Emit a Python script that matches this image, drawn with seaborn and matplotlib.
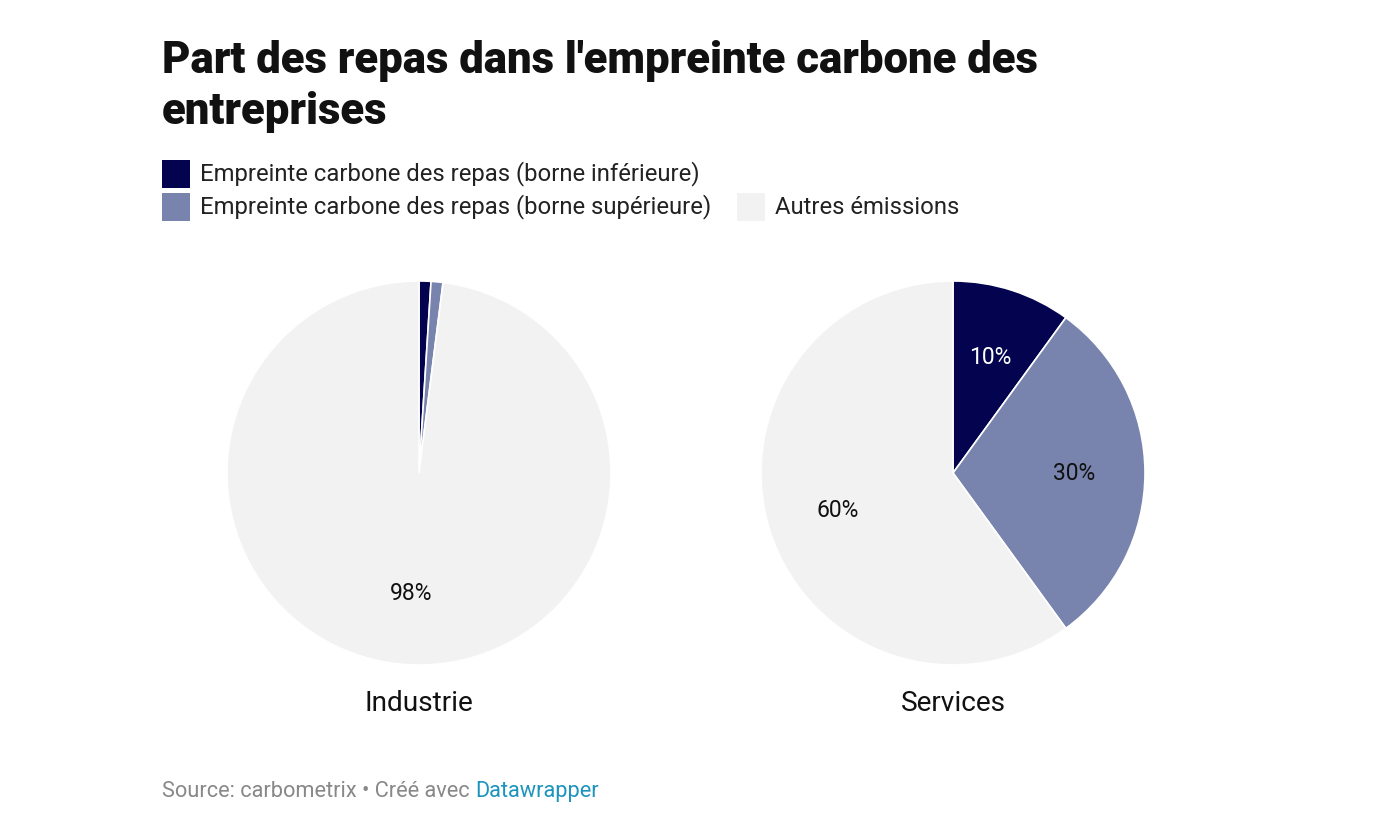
import matplotlib
matplotlib.use("Agg")
import matplotlib.pyplot as plt
from matplotlib.patches import Rectangle
import seaborn as sns

sns.set_theme(style="white")
plt.rcParams['font.family'] = ['Roboto', 'DejaVu Sans']

categories = ["Empreinte carbone des repas (borne inférieure)",
              "Empreinte carbone des repas (borne supérieure)",
              "Autres émissions"]
sectors = ["Industrie", "Services"]
industrie = [1, 1, 98]
services = [10, 30, 60]
colors = ["#03034f", "#7884ad", "#f2f2f2"]
label_colors = ["white", "#111111", "#111111"]
title_lines = ["Part des repas dans l'empreinte carbone des", "entreprises"]

W, H = 1374, 838
fig = plt.figure(figsize=(W / 100, H / 100), dpi=100)
fig.patch.set_facecolor("white")

def px(x, y):
    return x / W, 1 - y / H

# Title
for line, base in zip(title_lines, [73, 124]):
    fig.text(*px(162, base), line, fontsize=31.5, fontweight=900, color="#111111",
             va="baseline", ha="left")

# Legend
legend_pos = [(162, 160), (162, 193), (737, 193)]
for (lx, ly), cat, col in zip(legend_pos, categories, colors):
    x0, y0 = px(lx, ly + 28)
    fig.patches.append(Rectangle((x0, y0), 28 / W, 28 / H, transform=fig.transFigure,
                                 facecolor=col, edgecolor="none"))
    fig.text(*px(lx + 38, ly + 14), cat, fontsize=17.2, color="#222222",
             va="center", ha="left")

R = 192
centers = [(419, 473), (953, 473)]
for (cx, cy), name, vals in zip(centers, sectors, [industrie, services]):
    x0, y0 = px(cx - R, cy + R)
    ax = fig.add_axes([x0, y0, 2 * R / W, 2 * R / H])
    wedges, texts, autotexts = ax.pie(
        vals, colors=colors, startangle=90, counterclock=False,
        autopct=lambda p: f"{p:.0f}%" if p >= 5 else "",
        pctdistance=0.63, radius=1,
        wedgeprops=dict(edgecolor="white", linewidth=1.2),
        textprops=dict(fontsize=16.5))
    for t, c in zip(autotexts, label_colors):
        t.set_color(c)
    ax.set_xlim(-1, 1)
    ax.set_ylim(-1, 1)
    ax.set_aspect("equal")
    ax.axis("off")
    fig.text(*px(cx, 703), name, fontsize=20.2, color="#111111", ha="center", va="center")

# Source
t1 = fig.text(*px(162, 791), "Source: carbometrix • Créé avec ", fontsize=15.7,
              color="#888888", ha="left", va="center")
fig.canvas.draw()
bb = t1.get_window_extent()
fig.text(bb.x1 / W, 1 - 791 / H, "Datawrapper", fontsize=15.7, color="#1d94bd",
         ha="left", va="center")

fig.savefig("out.png", dpi=100, facecolor="white")
